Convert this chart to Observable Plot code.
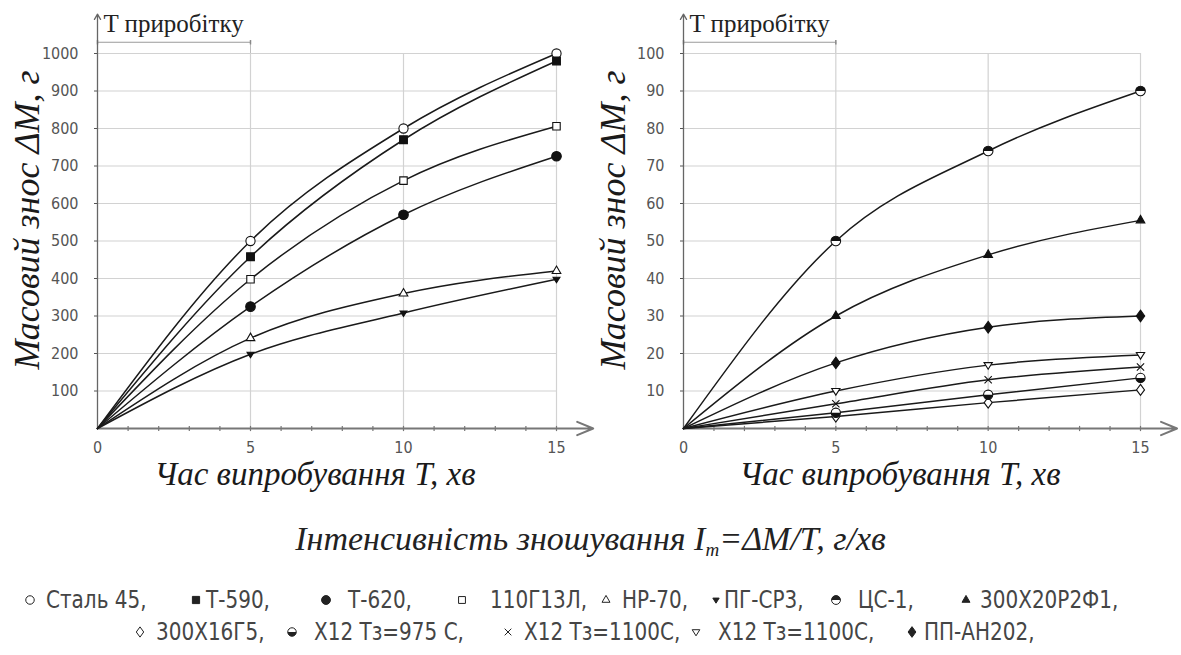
<!DOCTYPE html>
<html><head><meta charset="utf-8">
<script src="https://cdn.jsdelivr.net/npm/d3@7"></script>
<script src="https://cdn.jsdelivr.net/npm/@observablehq/plot@0.6"></script>
<style>
body{margin:0;background:#fff;}
#wrap{position:relative;width:1181px;height:655px;overflow:hidden;background:#fff;}
#left{position:absolute;left:0;top:0;}
#right{position:absolute;left:590px;top:0;}
#caption{position:absolute;left:0;width:1181px;top:520px;text-align:center;font-family:"Liberation Serif","DejaVu Serif",serif;font-style:italic;font-size:34px;color:#222;white-space:nowrap;}
#caption sub{font-size:19px;vertical-align:-6px;}
.sw{position:absolute;}
.lt{position:absolute;font-family:"DejaVu Sans",sans-serif;font-size:25px;line-height:26px;color:#454545;white-space:nowrap;transform:scaleX(0.8);transform-origin:0 50%;}
</style></head>
<body><div id="wrap"><div id="left"></div><div id="right"></div>
<div id="caption">Інтенсивність зношування I<sub>m</sub>=ΔM/T, г/хв</div>
<div id="legend"></div></div>
<script>
// ---- data ----
const times = [0, 5, 10, 15];
const xTicks = [0, 5, 10, 15];
const minorTicks = [1, 2, 3, 4, 5, 6, 7, 8, 9, 10, 11, 12, 13, 14, 15];
const leftYTicks = [100, 200, 300, 400, 500, 600, 700, 800, 900, 1000];
const rightYTicks = [10, 20, 30, 40, 50, 60, 70, 80, 90, 100];

const steel45 = [0, 500, 800, 1000];
const t590 = [0, 458, 770, 980];
const g13l = [0, 398, 661, 806];
const t620 = [0, 325, 570, 726];
const hp70 = [0, 241, 360, 420];
const pgsr3 = [0, 198, 308, 398];

const cs1 = [0, 50, 74, 90];
const x20r2f1 = [0, 30, 46.3, 55.5];
const ppan202 = [0, 17.5, 27, 30];
const x12_1100_tri = [0, 10, 16.9, 19.6];
const x12_1100_x = [0, 6.6, 13, 16.4];
const x12_975 = [0, 4.2, 9, 13.5];
const x16g5 = [0, 3.2, 6.9, 10.3];

const leftNames = ["Сталь 45", "Т-590", "Т-620", "110Г13Л", "НР-70", "ПГ-СР3"];
const rightNames = ["ЦС-1", "300Х20Р2Ф1", "300Х16Г5", "Х12 Тз=975 С", "Х12 Тз=1100С", "Х12 Тз=1100С", "ПП-АН202"];

// ---- custom symbols ----
const triDown = {draw(ctx, size){ const r = Math.sqrt(size / Math.PI) * 1.15; ctx.moveTo(-r, -r * 0.6); ctx.lineTo(r, -r * 0.6); ctx.lineTo(0, r); ctx.closePath(); }};
const halfTop = {draw(ctx, size){ const r = Math.sqrt(size / Math.PI); ctx.moveTo(-r, 0); ctx.arc(0, 0, r, Math.PI, 2 * Math.PI); ctx.closePath(); }};
const halfBottom = {draw(ctx, size){ const r = Math.sqrt(size / Math.PI); ctx.moveTo(r, 0); ctx.arc(0, 0, r, 0, Math.PI); ctx.closePath(); }};
const vTick = {draw(ctx, size){ const r = Math.sqrt(size / Math.PI); ctx.moveTo(0, -r); ctx.lineTo(0, r); }};
const rhomb = {draw(ctx, size){ const r = Math.sqrt(size / Math.PI) * 1.2; ctx.moveTo(0, -r * 1.1); ctx.lineTo(r * 0.8, 0); ctx.lineTo(0, r * 1.1); ctx.lineTo(-r * 0.8, 0); ctx.closePath(); }};

const leftSeries = [
  {id: "steel45", name: leftNames[0], values: steel45, sym: d3.symbolCircle, fill: "#fff", r: 4.6},
  {id: "t590", name: leftNames[1], values: t590, sym: d3.symbolSquare, fill: "#111", r: 4.4},
  {id: "t620", name: leftNames[2], values: t620, sym: d3.symbolCircle, fill: "#111", r: 4.8},
  {id: "g13l", name: leftNames[3], values: g13l, sym: d3.symbolSquare, fill: "#fff", r: 4.2},
  {id: "hp70", name: leftNames[4], values: hp70, sym: d3.symbolTriangle, fill: "#fff", r: 3.2},
  {id: "pgsr3", name: leftNames[5], values: pgsr3, sym: triDown, fill: "#111", r: 3.0}
];
const rightSeries = [
  {id: "cs1", name: rightNames[0], values: cs1, half: halfTop, r: 4.8},
  {id: "x20", name: rightNames[1], values: x20r2f1, sym: d3.symbolTriangle, fill: "#111", r: 3.2},
  {id: "x16", name: rightNames[2], values: x16g5, sym: rhomb, fill: "#fff", r: 4.2},
  {id: "x975", name: rightNames[3], values: x12_975, half: halfBottom, r: 4.6},
  {id: "x1100x", name: rightNames[4], values: x12_1100_x, sym: d3.symbolTimes, fill: "none", r: 3.4},
  {id: "x1100t", name: rightNames[5], values: x12_1100_tri, sym: triDown, fill: "#fff", r: 3.6},
  {id: "pp", name: rightNames[6], values: ppan202, sym: rhomb, fill: "#111", r: 4.4}
];

const serif = "Liberation Serif, DejaVu Serif, serif";
const narrow = "DejaVu Sans Condensed, DejaVu Sans, sans-serif";

function dotMarks(rows, s) {
  const pts = rows.filter(d => d.id === s.id && d.t > 0);
  if (s.half) return [
    Plot.dot(pts, {x: "t", y: "v", r: s.r, fill: "#fff", stroke: "#111", strokeWidth: 1.1}),
    Plot.dot(pts, {x: "t", y: "v", r: s.r, symbol: s.half, fill: "#111", stroke: "none"})
  ];
  return [Plot.dot(pts, {x: "t", y: "v", r: s.r, symbol: s.sym, fill: s.fill, stroke: "#111", strokeWidth: 1.1})];
}

function chart({width, marginLeft, marginRight, yMax, yTicks, series}) {
  const rows = series.flatMap(s => times.map((t, i) => ({id: s.id, t, v: s.values[i]})));
  const bracketY = yMax * 1.03, textY = yMax * 1.078, arrowTop = yMax * 1.105, xEnd = 16.2;
  return Plot.plot({
    width, height: 500, marginLeft, marginRight, marginTop: 53, marginBottom: 72,
    x: {domain: [0, 15]}, y: {domain: [0, yMax]},
    style: {background: "transparent", overflow: "visible"},
    marks: [
      Plot.ruleY(yTicks, {x1: 0, x2: 15, stroke: "#d2d2d2", strokeWidth: 1.2}),
      Plot.ruleX([5, 10, 15], {y1: 0, y2: yMax, stroke: "#d2d2d2", strokeWidth: 1.2}),
      Plot.ruleX([5], {y1: yMax, y2: bracketY, stroke: "#bdbdbd"}),
      Plot.ruleY([bracketY], {x1: 0, x2: 5, stroke: "#9a9a9a"}),
      Plot.dot([0, 5], {x: d => d, y: bracketY, symbol: vTick, r: 2.2, stroke: "#888"}),
      Plot.text(["T приробітку"], {x: 0, y: textY, dx: 6, textAnchor: "start", fontFamily: serif, fontSize: 25, fill: "#222"}),
      Plot.arrow([0], {x1: 0, y1: 0, x2: 0, y2: arrowTop, stroke: "#666", strokeWidth: 1.3, headLength: 7}),
      Plot.arrow([0], {x1: 0, y1: 0, x2: xEnd, y2: 0, stroke: "#777", strokeWidth: 2, headLength: 13, headAngle: 45}),
      Plot.dot(minorTicks, {x: d => d, y: 0, symbol: vTick, r: 2.6, stroke: "#777", strokeWidth: 1.2}),
      Plot.axisY({ticks: yTicks, tickFormat: d3.format("d"), tickSize: 3, tickPadding: 16, fontSize: 16, fontFamily: narrow, color: "#555", label: null}),
      Plot.axisX({ticks: xTicks, tickFormat: d3.format("d"), tickSize: 0, tickPadding: 13, fontSize: 16, fontFamily: narrow, color: "#555", label: null}),
      Plot.line(rows, {x: "t", y: "v", z: "id", curve: "monotone-x", stroke: "#1a1a1a", strokeWidth: 1.5}),
      ...series.flatMap(s => dotMarks(rows, s)),
      Plot.text(["Масовий знос ΔМ, г"], {frameAnchor: "left", textAnchor: "middle", rotate: -90, dx: -70, dy: -21, fontFamily: serif, fontStyle: "italic", fontSize: 36, fill: "#1a1a1a"}),
      Plot.text(["Час випробування T, хв"], {frameAnchor: "bottom", dy: 56, dx: -12, fontFamily: serif, fontStyle: "italic", fontSize: 33, fill: "#1a1a1a"})
    ]
  });
}

document.getElementById("left").append(chart({width: 590, marginLeft: 97, marginRight: 34, yMax: 1000, yTicks: leftYTicks, series: leftSeries}));
document.getElementById("right").append(chart({width: 591, marginLeft: 93, marginRight: 41, yMax: 100, yTicks: rightYTicks, series: rightSeries}));

// ---- legend (layout positions) ----
const legendRow1 = [leftSeries[0], leftSeries[1], leftSeries[2], leftSeries[3], leftSeries[4], leftSeries[5], rightSeries[0], rightSeries[1]];
const legendRow2 = [rightSeries[2], rightSeries[3], rightSeries[4], rightSeries[5], rightSeries[6]];
const row1Sym = [30, 196, 326, 462, 606, 716, 836, 966], row1Txt = [46, 206, 348, 490, 622, 724, 858, 980];
const row2Sym = [140, 292, 508, 696, 912], row2Txt = [156, 314, 524, 718, 924];
function swatch(s) {
  const svg = d3.create("svg").attr("width", 16).attr("height", 16).attr("viewBox", "-8 -8 16 16");
  const size = Math.PI * s.r * s.r * 0.85;
  if (s.half) {
    svg.append("path").attr("d", d3.symbol(d3.symbolCircle, size)()).attr("fill", "#fff").attr("stroke", "#222");
    svg.append("path").attr("d", d3.symbol(s.half, size)()).attr("fill", "#222");
  } else {
    svg.append("path").attr("d", d3.symbol(s.sym, size)()).attr("fill", s.fill === "#111" ? "#222" : s.fill).attr("stroke", "#222").attr("stroke-width", 1);
  }
  return svg.node();
}
const legend = document.getElementById("legend");
function fillRow(items, syms, txts, yc) {
  items.forEach((s, i) => {
    const sw = swatch(s); sw.classList.add("sw"); sw.style.left = (syms[i] - 8) + "px"; sw.style.top = (yc - 8) + "px";
    const t = document.createElement("div"); t.className = "lt"; t.textContent = s.name + ",";
    t.style.left = txts[i] + "px"; t.style.top = (yc - 13) + "px";
    legend.append(sw, t);
  });
}
fillRow(legendRow1, row1Sym, row1Txt, 600);
fillRow(legendRow2, row2Sym, row2Txt, 632);
</script></body></html>
